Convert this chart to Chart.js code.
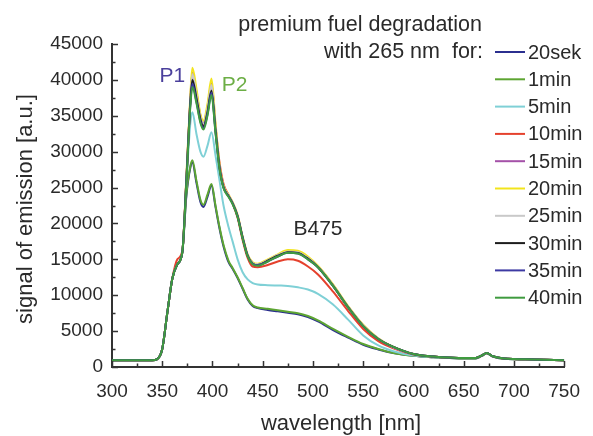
<!DOCTYPE html>
<html>
<head>
<meta charset="utf-8">
<script src="https://cdn.jsdelivr.net/npm/chart.js@4"></script>
<style>
  html, body { margin: 0; padding: 0; background: #fff; }
  #wrap { position: relative; width: 593px; height: 436px; }
</style>
</head>
<body>
<div id="wrap"><canvas id="chart" width="593" height="436"></canvas></div>
<script>
// wavelength grid [nm]
const wavelengths = [300, 340, 345, 350, 355, 360, 365, 370, 374, 378, 380, 384, 388, 391, 395, 399,
  403, 407, 411, 416, 420, 425, 430, 435, 440, 445, 455, 465, 475, 485, 495, 505,
  520, 535, 550, 565, 580, 600, 620, 645, 662, 668, 673, 679, 690, 720, 750]

const seriesNames = ["20sek", "1min", "5min", "10min", "15min", "20min", "25min", "30min", "35min", "40min"]
const seriesColors = ["#2b2f8f", "#5da532", "#7fd0d6", "#e5412d", "#a451a8", "#f2e41c", "#c9c9c9", "#1c1c1c", "#3d3aa3", "#3f9b3f"]

const sek20 = [950, 950, 1100, 2500, 7500, 12300, 14300, 16000, 23800, 27800, 28500, 25700, 23000, 22300, 23700, 25300,
  22300, 19300, 16800, 14600, 13700, 12400, 10900, 9400, 8500, 8200, 7950, 7750, 7550, 7350, 6950, 6350,
  5150, 4100, 3100, 2450, 1950, 1550, 1350, 1200, 1200, 1550, 1900, 1450, 1150, 1050, 950]
const min1 = [950, 950, 1100, 2500, 7500, 12300, 14300, 16000, 24000, 28000, 28800, 26000, 23300, 22600, 24000, 25500,
  22500, 19500, 17000, 14800, 13800, 12500, 11000, 9500, 8600, 8300, 8100, 7900, 7700, 7500, 7100, 6500,
  5300, 4200, 3200, 2500, 1950, 1550, 1350, 1200, 1200, 1550, 1900, 1450, 1150, 1050, 950]
const min5 = [950, 950, 1100, 2500, 7500, 12300, 14300, 16000, 25500, 34000, 35500, 32500, 30000, 29300, 30800, 32700,
  29500, 26000, 22500, 19500, 17500, 15000, 13200, 12200, 11700, 11500, 11400, 11350, 11300, 11100, 10800, 10200,
  8700, 6600, 4400, 3000, 2200, 1600, 1400, 1250, 1250, 1600, 1950, 1500, 1200, 1050, 950]
const min10 = [950, 950, 1100, 2500, 7500, 12300, 15000, 16200, 26000, 37200, 40500, 37800, 34700, 33700, 35800, 39000,
  33500, 28500, 25500, 24000, 22800, 20800, 17700, 15200, 14000, 13900, 14200, 14700, 15000, 14800, 14000, 12900,
  10500, 7800, 5300, 3600, 2600, 1750, 1450, 1250, 1250, 1600, 1950, 1500, 1200, 1050, 950]
const min15 = [950, 950, 1100, 2500, 7500, 12300, 14300, 16000, 26200, 37500, 41000, 38300, 35000, 34000, 36200, 39500,
  33600, 28000, 25200, 23900, 22900, 21100, 18100, 15600, 14500, 14300, 14900, 15600, 16100, 16000, 15200, 14000,
  11400, 8400, 5800, 3950, 2750, 1800, 1450, 1250, 1250, 1600, 1950, 1500, 1200, 1050, 950]
const min20 = [950, 950, 1100, 2500, 7500, 12300, 14300, 16000, 26500, 38000, 41700, 38800, 35200, 34300, 36600, 40200,
  34000, 28200, 25300, 24000, 23000, 21200, 18200, 15700, 14600, 14400, 15000, 15700, 16300, 16200, 15400, 14100,
  11500, 8500, 5900, 4000, 2800, 1800, 1450, 1250, 1250, 1600, 1950, 1500, 1200, 1050, 950]
const min25 = [950, 950, 1100, 2500, 7500, 12300, 14300, 16000, 26000, 37200, 40800, 38000, 34800, 33900, 36000, 39300,
  33400, 27900, 25100, 23900, 22900, 21100, 18100, 15600, 14500, 14300, 14900, 15600, 16100, 16000, 15200, 14000,
  11400, 8400, 5800, 3950, 2750, 1800, 1450, 1250, 1250, 1600, 1950, 1500, 1200, 1050, 950]
const min30 = [950, 950, 1100, 2500, 7500, 12300, 14300, 16000, 26000, 37000, 40000, 37500, 34500, 33500, 35500, 38500,
  33000, 27800, 25000, 23800, 22800, 21000, 18000, 15500, 14400, 14200, 14800, 15500, 16000, 15900, 15100, 13900,
  11300, 8300, 5700, 3900, 2800, 1800, 1450, 1250, 1250, 1600, 1950, 1500, 1200, 1050, 950]
const min35 = [950, 950, 1100, 2500, 7500, 12300, 14300, 16000, 25800, 36700, 39500, 37000, 34200, 33300, 35200, 38200,
  32800, 27700, 25000, 23800, 22800, 21000, 18000, 15500, 14400, 14200, 14700, 15400, 15900, 15800, 15000, 13900,
  11300, 8300, 5700, 3900, 2800, 1800, 1450, 1250, 1250, 1600, 1950, 1500, 1200, 1050, 950]
const min40 = [950, 950, 1100, 2500, 7500, 12300, 14300, 16000, 25600, 36400, 39000, 36800, 34000, 33100, 35000, 37900,
  32600, 27600, 24900, 23700, 22700, 20900, 17900, 15400, 14300, 14100, 14700, 15400, 15900, 15800, 15000, 13900,
  11300, 8300, 5700, 3900, 2800, 1800, 1450, 1250, 1250, 1600, 1950, 1500, 1200, 1050, 950]

const seriesValues = [sek20, min1, min5, min10, min15, min20, min25, min30, min35, min40]

const xTicks = [300, 350, 400, 450, 500, 550, 600, 650, 700, 750]
const yTicks = [0, 5000, 10000, 15000, 20000, 25000, 30000, 35000, 40000, 45000]

const FONT = "'Liberation Sans', Arial, sans-serif"
const TEXT = "#2a2a2a"
const AXIS = "#333"

// inward major/minor ticks
const inwardTicks = {
  id: "inwardTicks",
  afterDatasetsDraw(chart) {
    const { ctx, chartArea: a, scales: { x, y } } = chart
    ctx.save()
    ctx.strokeStyle = AXIS
    ctx.lineWidth = 1.5
    ctx.beginPath()
    for (let v = 300; v <= 750; v += 25) {
      const px = Math.round(x.getPixelForValue(v)) + 0.5
      const len = v % 50 === 0 ? 6 : 3.5
      ctx.moveTo(px, a.bottom)
      ctx.lineTo(px, a.bottom - len)
    }
    for (let v = 0; v <= 45000; v += 2500) {
      const py = Math.round(y.getPixelForValue(v)) + 0.5
      const len = v % 5000 === 0 ? 6 : 3.5
      ctx.moveTo(a.left, py)
      ctx.lineTo(a.left + len, py)
    }
    ctx.stroke()
    ctx.restore()
  },
}

// titles, legend and peak labels
const labels = {
  id: "labels",
  afterDraw(chart) {
    const { ctx, chartArea: a, scales: { x, y } } = chart
    ctx.save()
    ctx.fillStyle = TEXT
    ctx.textBaseline = "middle"

    // axis titles
    ctx.font = `22px ${FONT}`
    ctx.textAlign = "center"
    ctx.fillText("wavelength [nm]", (a.left + a.right) / 2 + 3, 424)
    ctx.save()
    ctx.translate(26, 209)
    ctx.rotate(-Math.PI / 2)
    ctx.fillText("signal of emission [a.u.]", 0, 0)
    ctx.restore()

    // header
    ctx.font = `21.5px ${FONT}`
    ctx.textAlign = "right"
    ctx.fillText("premium fuel degradation", 482, 25)
    ctx.fillText("with 265 nm  for:", 483, 52)

    // legend
    ctx.font = `20px ${FONT}`
    ctx.textAlign = "left"
    seriesNames.forEach((name, i) => {
      const ly = 52 + i * 27.3
      ctx.strokeStyle = seriesColors[i]
      ctx.lineWidth = 2
      ctx.beginPath()
      ctx.moveTo(495, ly)
      ctx.lineTo(525, ly)
      ctx.stroke()
      ctx.fillStyle = TEXT
      ctx.fillText(name, 528, ly + 1)
    })

    // peak labels
    ctx.textAlign = "center"
    ctx.font = `21px ${FONT}`
    ctx.fillStyle = "#4a3f9c"
    ctx.fillText("P1", x.getPixelForValue(360), y.getPixelForValue(40500))
    ctx.fillStyle = "#6cae45"
    ctx.fillText("P2", x.getPixelForValue(422), y.getPixelForValue(39300))
    ctx.fillStyle = TEXT
    ctx.fillText("B475", x.getPixelForValue(505), y.getPixelForValue(19200))
    ctx.restore()
  },
}

const datasets = seriesNames.map((name, i) => ({
  label: name,
  data: wavelengths.map((w, k) => ({ x: w, y: seriesValues[i][k] })),
  borderColor: seriesColors[i],
  borderWidth: 2,
  pointRadius: 0,
  cubicInterpolationMode: "monotone",
  fill: false,
  order: seriesNames.length - i,
}))

new Chart(document.getElementById("chart"), {
  type: "line",
  data: { datasets },
  options: {
    responsive: false,
    animation: false,
    events: [],
    layout: { padding: { top: 44, right: 25, left: 0, bottom: 0 } },
    plugins: { legend: { display: false }, tooltip: { enabled: false } },
    scales: {
      x: {
        type: "linear",
        min: 300,
        max: 750,
        afterFit: (s) => { s.height = 69 },
        afterBuildTicks: (s) => { s.ticks = xTicks.map((v) => ({ value: v })) },
        grid: { display: false, drawTicks: false },
        border: { color: AXIS, width: 2 },
        ticks: { color: TEXT, font: { family: FONT, size: 19 }, padding: 13, maxRotation: 0 },
      },
      y: {
        min: 0,
        max: 45000,
        afterFit: (s) => { s.width = 112 },
        afterBuildTicks: (s) => { s.ticks = yTicks.map((v) => ({ value: v })) },
        grid: { display: false, drawTicks: false },
        border: { color: AXIS, width: 2 },
        ticks: { color: TEXT, font: { family: FONT, size: 19 }, padding: 9, callback: (v) => String(v) },
      },
    },
  },
  plugins: [inwardTicks, labels],
})
</script>
</body>
</html>
